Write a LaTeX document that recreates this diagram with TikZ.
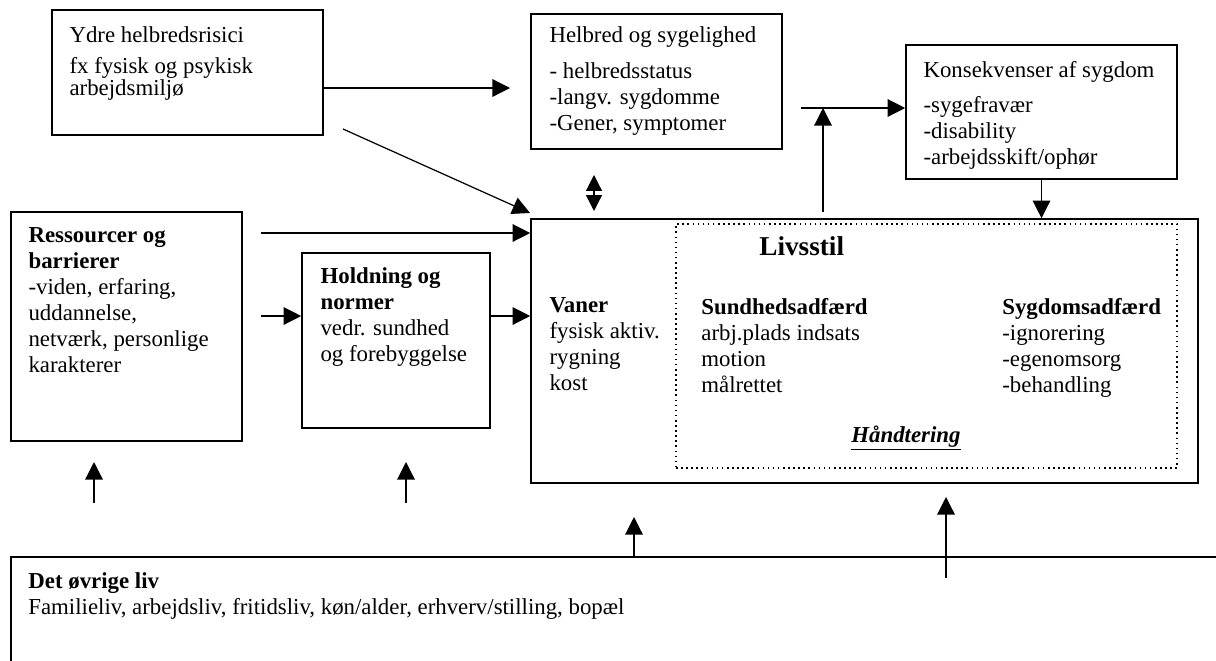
\documentclass[tikz,border=0pt]{standalone}
\usepackage{fontspec}
\setmainfont{Liberation Serif}
\usetikzlibrary{arrows.meta,fit,positioning}

\begin{document}
\begin{tikzpicture}[x=0.02cm, y=-0.02cm,
    box/.style={draw, line width=0.9pt, inner sep=0pt},
    txt/.style={anchor=north west, inner sep=0pt, align=left, font=\fontsize{13}{14.8}\selectfont},
    arr/.style={-{Triangle[length=10pt,width=10pt]}, line width=0.7pt}]
    \useasboundingbox (0,0) rectangle (1216,660);
    \clip (0,0) rectangle (1216,660);

    %boxes
    \node[box, fit={(52,10) (323,135)}] (ydre) {};
    \node[box, fit={(531,14) (782,149)}] (helbred) {};
    \node[box, fit={(906,45) (1177,179)}] (kons) {};
    \node[box, fit={(11,212) (242,441)}] (ress) {};
    \node[box, fit={(302,253) (490,428)}] (hold) {};
    \node[box, fit={(531,219) (1198,483)}] (livs) {};
    \node[box, dotted, line width=0.6pt, fit={(676,224) (1177,468)}] (livsin) {};
    \node[box, line width=1.1pt, fit={(11,557) (1240,690)}] (oevrig) {};

    %texts
    \node[txt, font=\fontsize{13}{12.5}\selectfont] (ydretxt) at ([shift={(18,17)}]ydre.north west)
        {Ydre helbredsrisici\\[5pt]fx fysisk og psykisk\\arbejdsmiljø};
    \node[txt] (helbredtxt) at ([shift={(19,13)}]helbred.north west)
        {Helbred og sygelighed\\[6pt]- helbredsstatus\\-langv. sygdomme\\-Gener, symptomer};
    \node[txt] (konstxt) at ([shift={(18,17)}]kons.north west)
        {Konsekvenser af sygdom\\[5pt]-sygefravær\\-disability\\-arbejdsskift/ophør};
    \node[txt] (resstxt) at ([shift={(18,16)}]ress.north west)
        {\textbf{Ressourcer og}\\\textbf{barrierer}\\-viden, erfaring,\\uddannelse,\\netværk, personlige\\karakterer};
    \node[txt] (holdtxt) at ([shift={(19,15)}]hold.north west)
        {\textbf{Holdning og}\\\textbf{normer}\\vedr. sundhed\\og forebyggelse};
    \node[txt] (vaner) at ([shift={(19,79)}]livs.north west)
        {\textbf{Vaner}\\fysisk aktiv.\\rygning\\kost};
    \node[txt] (sundhed) at (701,298)
        {\textbf{Sundhedsadfærd}\\arbj.plads indsats\\motion\\målrettet};
    \node[txt] (sygdom) at (1002,298)
        {\textbf{Sygdomsadfærd}\\-ignorering\\-egenomsorg\\-behandling};
    \node[txt, font=\fontsize{15.5}{18}\selectfont\bfseries] (livsstil) at (759,236) {Livsstil};
    \node[txt, anchor=center, font=\fontsize{13}{14.8}\selectfont\bfseries\itshape] (haandtering) at (906,438)
        {\underline{Håndtering}};
    \node[txt] (oevrigtxt) at ([shift={(18,16)}]oevrig.north west)
        {\textbf{Det øvrige liv}\\Familieliv, arbejdsliv, fritidsliv, køn/alder, erhverv/stilling, bopæl};

    %arrows
    \coordinate (a1) at (510,88);
    \draw[arr] (ydre.east |- a1) -- (a1);
    \coordinate (a2) at (343,129);
    \coordinate (a2e) at (530,213);
    \draw[arr] (a2) -- (a2e);
    \coordinate (a3) at (594,175);
    \coordinate (a4) at (594,211);
    \draw[{Triangle[length=9pt,width=9pt]}-{Triangle[length=9pt,width=9pt]}, line width=0.7pt] (a3) -- (a4);
    \coordinate (a5) at (801,108);
    \draw[arr] (a5) -- (kons.west |- a5);
    \coordinate (a6) at (823,212);
    \draw[arr] (a6) -- (a6 |- a5);
    \draw[arr] (kons.south) -- (livs.north -| kons.south);
    \coordinate (a7) at (261,233);
    \draw[arr] (a7) -- (livs.west |- a7);
    \coordinate (a8) at (261,316);
    \draw[arr] (a8) -- (hold.west |- a8);
    \draw[arr] (hold.east |- a8) -- (livs.west |- a8);

    %from below
    \foreach \x/\a/\b [count=\i] in {94/503/462, 406/503/462, 946/578/497} {
        \coordinate (p\i) at (\x,\a);
        \coordinate (q\i) at (\x,\b);
        \draw[arr] (p\i) -- (q\i);
    }
    \coordinate (a9) at (634,517);
    \draw[arr] (oevrig.north -| a9) -- (a9);
\end{tikzpicture}
\end{document}
